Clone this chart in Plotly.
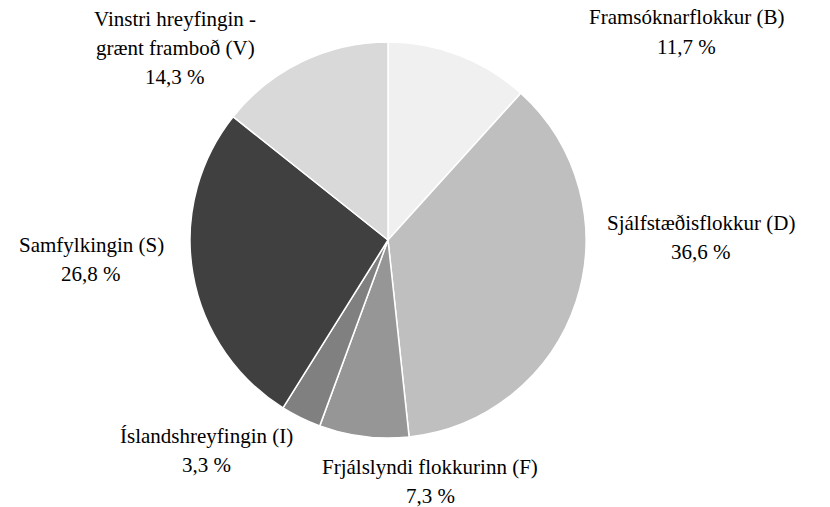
import plotly.graph_objects as go

# Party share of votes
parties = ["Framsóknarflokkur (B)", "Sjálfstæðisflokkur (D)", "Frjálslyndi flokkurinn (F)",
           "Íslandshreyfingin (I)", "Samfylkingin (S)", "Vinstri hreyfingin - grænt framboð (V)"]
shares = [11.7, 36.6, 7.3, 3.3, 26.8, 14.3]
colors = ["#f0f0f0", "#bfbfbf", "#969696", "#808080", "#404040", "#d9d9d9"]

# label text lines (name split as in the original) and their pixel centres
label_lines = [["Framsóknarflokkur (B)"], ["Sjálfstæðisflokkur (D)"], ["Frjálslyndi flokkurinn (F)"],
               ["Íslandshreyfingin (I)"], ["Samfylkingin (S)"], ["Vinstri hreyfingin -", "grænt framboð (V)"]]
label_pos = [(686, 32), (701, 237), (430, 481), (206, 450), (91, 259), (175, 48)]

W, H = 830, 507
LINE = 29

fig = go.Figure()
fig.add_trace(go.Pie(
    labels=parties,
    values=shares,
    sort=False,
    direction="clockwise",
    rotation=0,
    marker=dict(colors=colors, line=dict(color="white", width=1.5)),
    textinfo="none",
    hoverinfo="label+percent",
    domain=dict(x=[190 / W, 586 / W], y=[1 - 438 / H, 1 - 42 / H]),
))

for lines, share, (cx, cy) in zip(label_lines, shares, label_pos):
    rows = lines + [f"{share:.1f} %".replace(".", ",")]
    top = cy - LINE * (len(rows) - 1) / 2
    for i, row in enumerate(rows):
        fig.add_annotation(
            x=cx / W, y=1 - (top + i * LINE) / H,
            xref="paper", yref="paper",
            text=row, showarrow=False,
            xanchor="center", yanchor="middle",
            font=dict(family="Liberation Serif", size=21, color="#000000"),
        )

fig.update_layout(
    width=W, height=H,
    margin=dict(l=0, r=0, t=0, b=0),
    paper_bgcolor="white",
    showlegend=False,
)

# drop the page's default body margin so the figure sits at the top-left corner
fig.write_html("out.html", config={"displayModeBar": False},
               post_script="document.body.style.margin='0';")
